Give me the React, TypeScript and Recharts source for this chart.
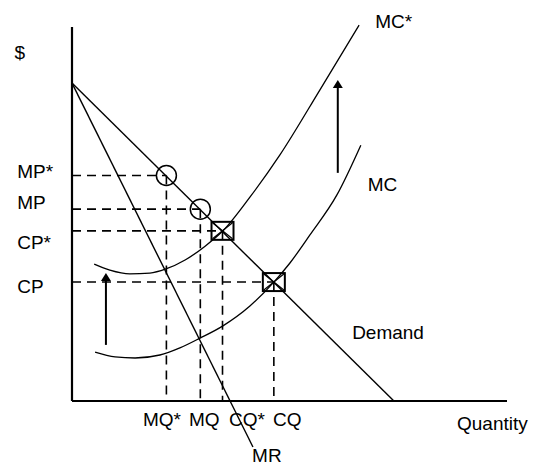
import {
  ComposedChart,
  Line,
  Scatter,
  XAxis,
  YAxis,
  ReferenceLine,
} from "recharts";

// economic units: quantity 0..100 along the x axis, price 0..100 up the y axis
const demand = [
  { q: 0, p: 85 },
  { q: 74, p: 0 },
];
const marginalRevenue = [
  { q: 0, p: 85 },
  { q: 41.6, p: -12.3 },
];
const marginalCost = [
  { q: 5.3, p: 13.1 },
  { q: 9.9, p: 11.8 },
  { q: 14.5, p: 11.5 },
  { q: 20.2, p: 12.3 },
  { q: 24.8, p: 14.2 },
  { q: 29.4, p: 16.8 },
  { q: 34.7, p: 20.1 },
  { q: 40.9, p: 25.4 },
  { q: 46.4, p: 31.8 },
  { q: 50.1, p: 36.9 },
  { q: 54.7, p: 44.4 },
  { q: 60.9, p: 55.1 },
  { q: 66.4, p: 68.4 },
];
const marginalCostStar = [
  { q: 5.1, p: 36.6 },
  { q: 8.7, p: 35.0 },
  { q: 13.3, p: 34.0 },
  { q: 17.9, p: 34.2 },
  { q: 21.6, p: 35.3 },
  { q: 26.0, p: 37.7 },
  { q: 30.6, p: 41.4 },
  { q: 34.7, p: 45.5 },
  { q: 40.9, p: 54.5 },
  { q: 47.8, p: 65.8 },
  { q: 57.0, p: 83.2 },
  { q: 66.0, p: 100.5 },
];

// monopoly points (circles) and competitive points (boxes)
const monopolyPoints = [
  { q: 21.7, p: 60.3 },
  { q: 29.5, p: 51.3 },
];
const competitivePoints = [
  { q: 34.6, p: 45.5 },
  { q: 46.4, p: 31.8 },
];

// arrows showing the shift of MC to MC*
const shifts = [
  { q: 7.8, from: 15.0, to: 34.2 },
  { q: 61.1, from: 61.0, to: 85.8 },
];

const labels = [
  { q: -12.0, p: 93.3, text: "$", anchor: "middle" },
  { q: -12.6, p: 61.4, text: "MP*", anchor: "start" },
  { q: -12.6, p: 53.2, text: "MP", anchor: "start" },
  { q: -12.6, p: 42.5, text: "CP*", anchor: "start" },
  { q: -12.6, p: 30.7, text: "CP", anchor: "start" },
  { q: 16.3, p: -4.9, text: "MQ*", anchor: "start" },
  { q: 26.9, p: -4.9, text: "MQ", anchor: "start" },
  { q: 36.1, p: -4.9, text: "CQ*", anchor: "start" },
  { q: 46.2, p: -4.9, text: "CQ", anchor: "start" },
  { q: 41.4, p: -14.7, text: "MR", anchor: "start" },
  { q: 88.5, p: -5.9, text: "Quantity", anchor: "start" },
  { q: 64.4, p: 18.2, text: "Demand", anchor: "start" },
  { q: 68.0, p: 57.8, text: "MC", anchor: "start" },
  { q: 69.7, p: 101.6, text: "MC*", anchor: "start" },
];

const X_DOMAIN = [-72 / 4.35, 463 / 4.35];
const Y_DOMAIN = [-66 / 3.74, 401 / 3.74];
const FONT = '"Liberation Sans", Arial, sans-serif';

const Circle = (props: any) => (
  <circle cx={props.cx} cy={props.cy} r={10} fill="none" stroke="#000" strokeWidth={1.5} />
);

const Box = (props: any) => {
  const { cx, cy } = props;
  return (
    <g stroke="#000" fill="none">
      <rect x={cx - 11} y={cy - 9} width={22} height={18} strokeWidth={2} />
      <line x1={cx - 10} y1={cy - 8} x2={cx + 10} y2={cy + 8} strokeWidth={1.2} />
      <line x1={cx + 10} y1={cy - 8} x2={cx - 10} y2={cy + 8} strokeWidth={1.2} />
    </g>
  );
};

const Label = (props: any) => {
  const d = props.payload ?? props;
  return (
    <text
      x={props.cx}
      y={props.cy}
      textAnchor={d.anchor}
      dominantBaseline="central"
      fontFamily={FONT}
      fontSize={19}
      fill="#000"
    >
      {d.text}
    </text>
  );
};

const Arrow = (props: any) => {
  const { x1, y1, x2, y2 } = props;
  return (
    <g>
      <line x1={x1} y1={y1} x2={x2} y2={y2 + 6} stroke="#000" strokeWidth={2} />
      <path d={`M${x2},${y2} L${x2 - 5},${y2 + 8} L${x2 + 5},${y2 + 8} Z`} fill="#000" />
    </g>
  );
};

const dashed = { stroke: "#000", strokeWidth: 1.6, strokeDasharray: "9 6" };

export default function App() {
  return (
    <div style={{ position: "absolute", left: 0, top: 0, background: "#fff" }}>
      <ComposedChart width={535} height={467} margin={{ top: 0, right: 0, bottom: 0, left: 0 }}>
        <XAxis type="number" dataKey="q" domain={X_DOMAIN} hide allowDataOverflow />
        <YAxis type="number" dataKey="p" domain={Y_DOMAIN} hide allowDataOverflow />

        {monopolyPoints.map((d, i) => (
          <ReferenceLine key={"mh" + i} segment={[{ x: 0, y: d.p }, { x: d.q, y: d.p }]} {...dashed} />
        ))}
        {monopolyPoints.map((d, i) => (
          <ReferenceLine key={"mv" + i} segment={[{ x: d.q, y: d.p }, { x: d.q, y: 0 }]} {...dashed} />
        ))}
        {competitivePoints.map((d, i) => (
          <ReferenceLine key={"ch" + i} segment={[{ x: 0, y: d.p }, { x: d.q, y: d.p }]} {...dashed} />
        ))}
        {competitivePoints.map((d, i) => (
          <ReferenceLine key={"cv" + i} segment={[{ x: d.q, y: d.p }, { x: d.q, y: 0 }]} {...dashed} />
        ))}

        <ReferenceLine segment={[{ x: 0, y: 0 }, { x: 0, y: 100 }]} stroke="#000" strokeWidth={2.2} />
        <ReferenceLine segment={[{ x: 0, y: 0 }, { x: 100, y: 0 }]} stroke="#000" strokeWidth={2.2} />

        {shifts.map((s, i) => (
          <ReferenceLine
            key={"a" + i}
            segment={[{ x: s.q, y: s.from }, { x: s.q, y: s.to }]}
            shape={Arrow}
          />
        ))}

        <Line data={demand} dataKey="p" type="linear" stroke="#000" strokeWidth={1.4} dot={false} activeDot={false} isAnimationActive={false} />
        <Line data={marginalRevenue} dataKey="p" type="linear" stroke="#000" strokeWidth={1.4} dot={false} activeDot={false} isAnimationActive={false} />
        <Line data={marginalCost} dataKey="p" type="monotone" stroke="#000" strokeWidth={1.3} dot={false} activeDot={false} isAnimationActive={false} />
        <Line data={marginalCostStar} dataKey="p" type="monotone" stroke="#000" strokeWidth={1.3} dot={false} activeDot={false} isAnimationActive={false} />

        <Scatter data={monopolyPoints} dataKey="p" shape={Circle} isAnimationActive={false} />
        <Scatter data={competitivePoints} dataKey="p" shape={Box} isAnimationActive={false} />
        <Scatter data={labels} dataKey="p" shape={Label} isAnimationActive={false} />
      </ComposedChart>
    </div>
  );
}
